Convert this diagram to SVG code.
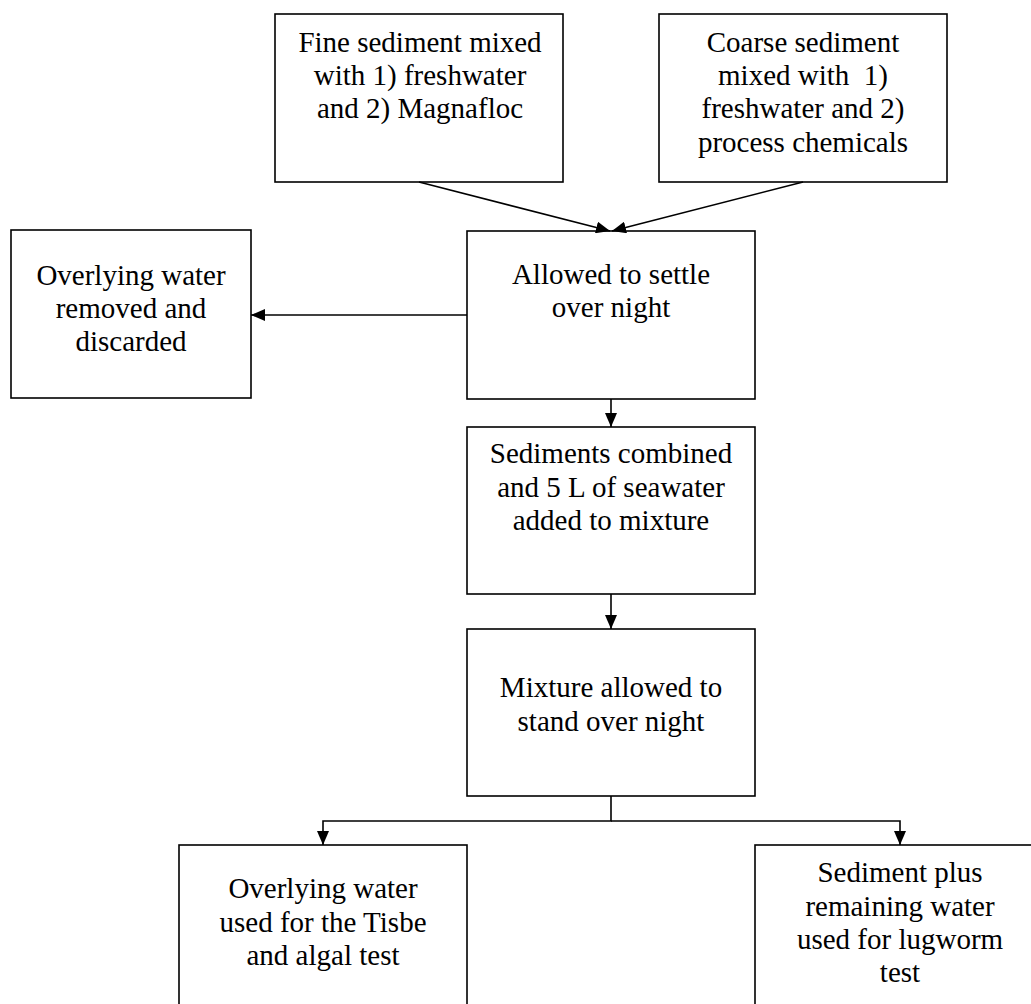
<svg xmlns="http://www.w3.org/2000/svg" width="1031" height="1004" viewBox="0 0 1031 1004">
<defs>
<marker id="ah" markerWidth="14" markerHeight="12" refX="14" refY="6" orient="auto" markerUnits="userSpaceOnUse">
<path d="M0,0 L14,6 L0,12 Z" fill="#000"/>
</marker>
<style>
.box{fill:#fff;stroke:#000;stroke-width:1.6}
.t{font-family:"Liberation Serif","Times New Roman",serif;font-size:29px;fill:#000;text-anchor:middle}
.c{fill:none;stroke:#000;stroke-width:1.6}
</style>
</defs>
<rect width="1031" height="1004" fill="#fff"/>
<g id="fine">
<rect class="box" x="275" y="14" width="288" height="168"/>
<text class="t" x="420" y="52">Fine sediment mixed</text>
<text class="t" x="420" y="85">with 1) freshwater</text>
<text class="t" x="420" y="118">and 2) Magnafloc</text>
</g>
<g id="coarse">
<rect class="box" x="659" y="14" width="288" height="168"/>
<text class="t" x="803" y="52">Coarse sediment</text>
<text class="t" x="803" y="85" xml:space="preserve">mixed with  1)</text>
<text class="t" x="803" y="118">freshwater and 2)</text>
<text class="t" x="803" y="152">process chemicals</text>
</g>
<g id="settle">
<rect class="box" x="467" y="231" width="288" height="168"/>
<text class="t" x="611" y="284">Allowed to settle</text>
<text class="t" x="611" y="317">over night</text>
</g>
<g id="discard">
<rect class="box" x="11" y="230" width="240" height="168"/>
<text class="t" x="131" y="285">Overlying water</text>
<text class="t" x="131" y="318">removed and</text>
<text class="t" x="131" y="351">discarded</text>
</g>
<g id="combined">
<rect class="box" x="467" y="427" width="288" height="167"/>
<text class="t" x="611" y="463">Sediments combined</text>
<text class="t" x="611" y="497">and 5 L of seawater</text>
<text class="t" x="611" y="530">added to mixture</text>
</g>
<g id="stand">
<rect class="box" x="467" y="629" width="288" height="167"/>
<text class="t" x="611" y="697">Mixture allowed to</text>
<text class="t" x="611" y="731">stand over night</text>
</g>
<g id="tisbe">
<rect class="box" x="179" y="845" width="288" height="200"/>
<text class="t" x="323" y="898">Overlying water</text>
<text class="t" x="323" y="932">used for the Tisbe</text>
<text class="t" x="323" y="965">and algal test</text>
</g>
<g id="lugworm">
<rect class="box" x="755" y="845" width="290" height="200"/>
<text class="t" x="900" y="882">Sediment plus</text>
<text class="t" x="900" y="916">remaining water</text>
<text class="t" x="900" y="949">used for lugworm</text>
<text class="t" x="900" y="982">test</text>
</g>
<g id="connectors">
<line class="c" x1="419" y1="182" x2="610" y2="231" marker-end="url(#ah)"/>
<line class="c" x1="803" y1="182" x2="612" y2="231" marker-end="url(#ah)"/>
<line class="c" x1="467" y1="315" x2="251" y2="315" marker-end="url(#ah)"/>
<line class="c" x1="611" y1="399" x2="611" y2="427" marker-end="url(#ah)"/>
<line class="c" x1="611" y1="594" x2="611" y2="629" marker-end="url(#ah)"/>
<polyline class="c" points="611,796 611,821 323,821 323,845" marker-end="url(#ah)"/>
<polyline class="c" points="611,821 900,821 900,845" marker-end="url(#ah)"/>
</g>
</svg>
